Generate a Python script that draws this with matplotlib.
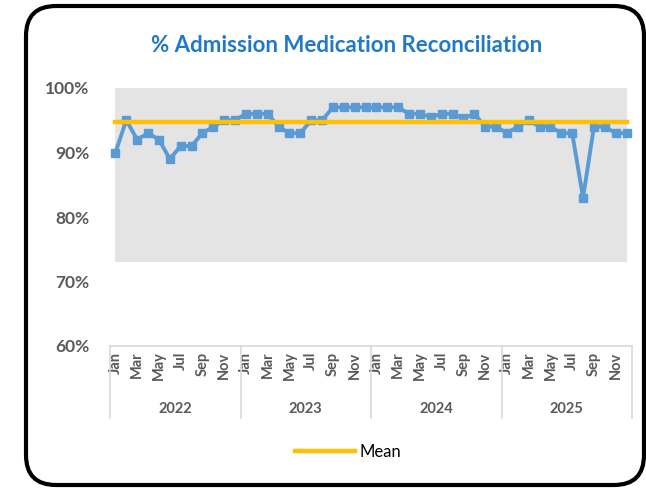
import numpy as np
import matplotlib.pyplot as plt
from matplotlib.patches import FancyBboxPatch
import matplotlib.transforms as mtransforms

years = ['2022', '2023', '2024', '2025']
months = ['Jan', 'Feb', 'Mar', 'Apr', 'May', 'Jun',
          'Jul', 'Aug', 'Sep', 'Oct', 'Nov', 'Dec']
pct_2022 = [90, 95, 92, 93, 92, 89, 91, 91, 93, 94, 95, 95]
pct_2023 = [96, 96, 96, 94, 93, 93, 95, 95, 97, 97, 97, 97]
pct_2024 = [97, 97, 97, 96, 96, 95.5, 96, 96, 95.3, 96, 94, 94]
pct_2025 = [93, 94, 95, 94, 94, 93, 93, 83, 94, 94, 93, 93]
mean_pct = 94.8
band_low, band_high = 73, 100

values = np.array(pct_2022 + pct_2023 + pct_2024 + pct_2025)
x = np.arange(len(values))

plt.rcParams['font.family'] = ['Lato', 'DejaVu Sans']
grey_txt = '#595959'

fig = plt.figure(figsize=(6.46, 4.88), dpi=100)
ax = fig.add_axes([110 / 646, 142 / 488, 522 / 646, 258 / 488])

ax.fill_between(x, band_low, band_high, color='#E4E4E4', lw=0, zorder=1)
ax.plot(x, values, color='#5B9BD5', lw=2.8, marker='s', ms=6, zorder=3)
ax.plot(x, np.full(len(x), mean_pct), color='#FFC000', lw=3.2, zorder=4,
        label='Mean')

ax.set_xlim(-0.5, len(x) - 0.5)
ax.set_ylim(60, 100)
ax.set_yticks([60, 70, 80, 90, 100])
ax.set_yticklabels([f'{v}%' for v in [60, 70, 80, 90, 100]],
                   fontsize=12.5, fontweight='bold', color=grey_txt)
ax.tick_params(axis='y', length=0, pad=15)

ticks = x[::2]
ax.set_xticks(ticks)
ax.set_xticklabels([months[i % 12] for i in ticks], rotation=90,
                   fontsize=10.5, fontweight='bold', color=grey_txt,
                   va='top', ha='center')
ax.tick_params(axis='x', length=0, pad=4)

for s in ['top', 'right', 'left']:
    ax.spines[s].set_visible(False)
ax.spines['bottom'].set_color('#D9D9D9')
ax.spines['bottom'].set_linewidth(1.2)

# year separators and labels
trans = mtransforms.blended_transform_factory(ax.transData, ax.transAxes)
for k in range(len(years) + 1):
    xb = k * 12 - 0.5
    ax.plot([xb, xb], [0, -0.28], color='#D9D9D9', lw=1.2,
            transform=trans, clip_on=False)
for k, yr in enumerate(years):
    ax.text(k * 12 + 5.5, -0.245, yr, transform=trans, ha='center',
            va='center', fontsize=10.5, fontweight='bold', color=grey_txt)

fig.text(347 / 646, 1 - 45 / 488, '% Admission Medication Reconciliation',
         ha='center', va='center', fontsize=16, fontweight='bold',
         color='#1F78C8')

fig.legend(loc='center', bbox_to_anchor=(348 / 646, 1 - 452 / 488),
           frameon=False, fontsize=12, handlelength=3.6, handletextpad=0.3)

frame = FancyBboxPatch((26 / 100, 3 / 100), 618 / 100, 479 / 100,
                       boxstyle='round,pad=0,rounding_size=0.3',
                       transform=fig.dpi_scale_trans, fill=False,
                       ec='black', lw=3)
fig.add_artist(frame)

fig.savefig('out.png', dpi=100)
